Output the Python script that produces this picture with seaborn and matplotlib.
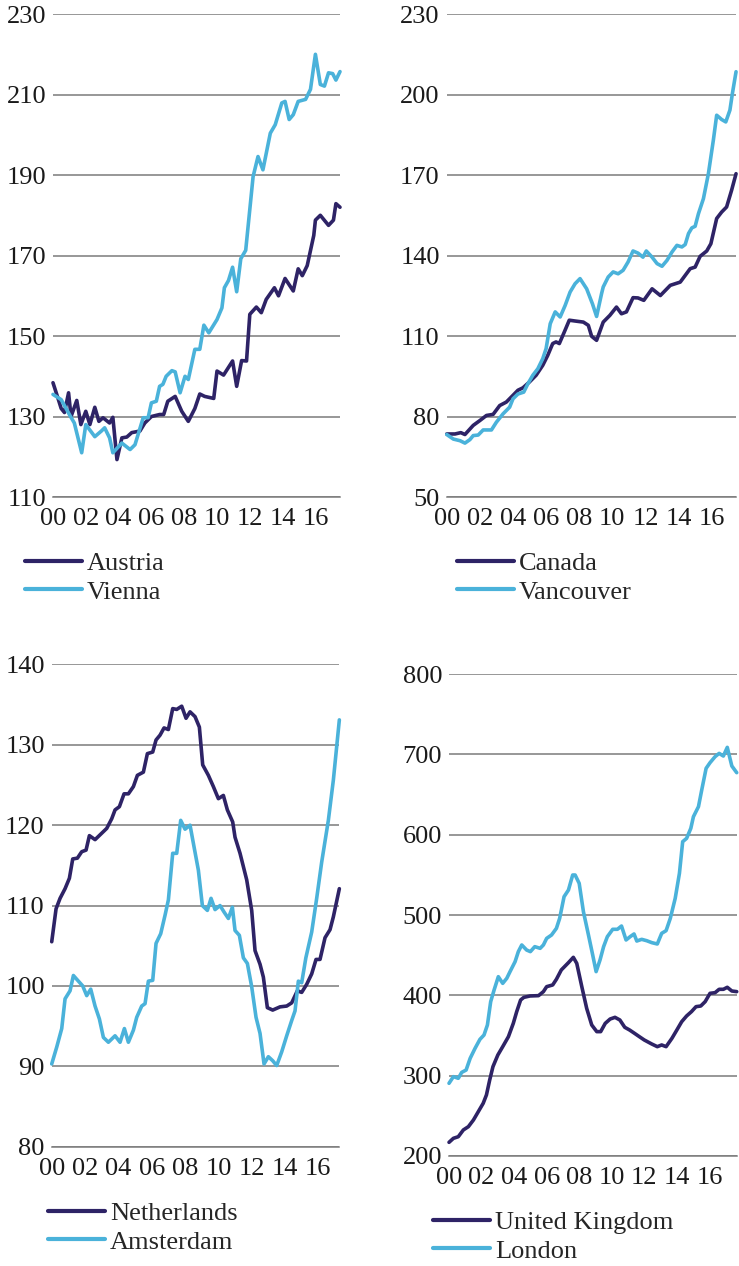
import matplotlib
matplotlib.use("Agg")
import matplotlib.pyplot as plt
import seaborn as sns
import pandas as pd

# ---------------- data (years since 2000, index values) ----------------
austria_x = [0,0.3,0.5,0.7,0.95,1.1,1.45,1.7,2.0,2.25,2.55,2.8,3.05,3.45,3.65,3.9,4.2,4.5,4.8,5.3,5.6,6.0,6.5,6.75,7.0,7.45,7.85,8.25,8.65,8.95,9.25,9.8,10.0,10.4,10.95,11.2,11.5,11.8,12.0,12.4,12.7,13.0,13.5,13.75,14.15,14.65,14.95,15.2,15.5,15.9,16.0,16.3,16.8,17.1,17.25,17.5]
austria_y = [138.4,134.6,132,131,135.9,130,134,128,131.3,128,132.3,128.8,129.7,128.4,129.8,119.3,124.7,124.9,126,126.4,128.4,130,130.5,130.5,133.8,135,131.3,128.8,132,135.6,135,134.5,141.3,140.3,143.8,137.5,143.9,143.8,155.4,157.2,155.8,159.1,162,160,164.3,161.2,166.7,165,167.5,175,178.8,180,177.5,178.8,182.9,182]

vienna_x = [0,0.5,1.0,1.3,1.75,2.0,2.55,2.95,3.15,3.45,3.65,4.2,4.7,5.0,5.5,5.8,6.0,6.3,6.5,6.7,6.9,7.25,7.45,7.75,8.05,8.25,8.65,8.95,9.2,9.5,10.0,10.3,10.45,10.7,10.95,11.2,11.45,11.75,12.2,12.5,12.8,13.25,13.55,13.95,14.15,14.4,14.65,14.95,15.4,15.7,16.0,16.3,16.55,16.8,17.05,17.25,17.5]
vienna_y = [135.5,134.2,130.5,128.4,121,128,125,126.4,127.2,124.7,121,123.4,121.8,123,129.7,129.7,133.4,133.8,137.5,138,140,141.4,141.1,135.9,140,139.2,146.7,146.7,152.7,150.8,154.1,157,162,163.8,167.1,161,169.2,171.3,189.6,194.6,191.3,200.4,202.5,207.9,208.3,203.8,205,208.3,208.8,211.3,220,212.5,212.1,215.4,215.2,213.6,215.7]

canada_x = [0,0.5,0.85,1.1,1.6,2.0,2.4,2.8,3.2,3.6,4.0,4.3,4.6,5.0,5.4,5.8,6.1,6.4,6.6,6.8,7.1,7.4,7.75,8.25,8.55,8.75,9.05,9.45,9.85,10.25,10.55,10.85,11.25,11.55,11.9,12.4,12.9,13.5,14.1,14.4,14.7,15.0,15.3,15.7,15.95,16.3,16.6,16.9,17.2,17.47]
canada_y = [73.5,73.5,74,73.3,76.7,78.5,80.4,80.8,84.1,85.4,87.9,89.8,90.7,92.9,95.4,99.1,102.8,107.2,107.8,107.2,111.5,115.9,115.6,115.2,114,109.9,108.4,115.2,117.7,120.8,118.3,119,124.3,124.2,123.3,127.6,125.1,128.9,130.1,132.6,135.1,135.7,139.7,141.7,144.4,153.8,156.2,158.1,164.3,170.5]

vancouver_x = [0,0.4,0.8,1.1,1.4,1.6,1.9,2.2,2.7,3.0,3.4,3.8,4.0,4.3,4.65,4.9,5.2,5.5,5.8,6.0,6.25,6.55,6.85,7.15,7.45,7.75,8.05,8.45,8.8,9.05,9.35,9.45,9.75,10.05,10.35,10.65,10.95,11.25,11.55,11.85,12.05,12.4,12.7,13.0,13.3,13.6,13.9,14.2,14.4,14.6,14.8,15.0,15.2,15.5,15.8,16.1,16.3,16.6,16.85,17.1,17.25,17.47]
vancouver_y = [73.3,71.6,71,70.1,71.4,72.9,73.1,75,75,77.9,81,83.5,86.6,88.4,89.1,92.2,95.4,97.8,101.6,105.3,114.6,119,117.1,121.4,126.4,129.5,131.4,127.6,122,117.3,125.8,128.3,132,133.9,133.2,134.5,137.6,141.7,140.9,139.4,141.7,139.4,137,136,138.2,141.3,143.8,143.2,144.1,148.2,150.3,150.9,155.6,161.2,170.5,183,192.3,190.7,189.8,194.2,200.4,208.5]

netherlands_x = [0,0.26,0.5,0.8,1.06,1.26,1.54,1.8,2.06,2.26,2.6,2.9,3.3,3.6,3.8,4.06,4.34,4.6,4.9,5.14,5.5,5.74,6.06,6.26,6.5,6.74,7.0,7.26,7.5,7.8,8.06,8.3,8.6,8.86,9.06,9.4,9.7,10.0,10.3,10.54,10.86,11.0,11.3,11.7,12.0,12.2,12.5,12.7,12.94,13.26,13.7,14.1,14.4,14.74,15.0,15.3,15.6,15.86,16.1,16.4,16.7,16.9,17.26]
netherlands_y = [105.5,109.6,110.9,112.1,113.4,115.8,115.9,116.7,116.9,118.7,118.2,118.8,119.6,120.8,121.9,122.3,123.9,123.9,124.8,126.2,126.6,128.9,129.1,130.6,131.2,132.1,131.9,134.5,134.4,134.8,133.3,134.1,133.5,132.2,127.5,126.2,124.8,123.3,123.7,121.9,120.4,118.5,116.5,113.2,109.4,104.4,102.7,101.1,97.3,97,97.4,97.5,97.9,99.4,99.2,100.2,101.5,103.3,103.3,106,107,108.6,112.1]

amsterdam_x = [0,0.3,0.6,0.8,1.1,1.3,1.6,1.86,2.1,2.34,2.6,2.86,3.1,3.4,3.8,4.1,4.36,4.6,4.9,5.1,5.4,5.6,5.8,6.06,6.26,6.54,6.8,7.0,7.26,7.5,7.74,8.0,8.3,8.54,8.8,9.04,9.34,9.56,9.8,10.1,10.34,10.6,10.84,11.0,11.26,11.5,11.74,12.0,12.26,12.5,12.74,13.0,13.26,13.5,13.8,14.1,14.4,14.6,14.8,15.0,15.25,15.6,15.9,16.2,16.6,16.9,17.26]
amsterdam_y = [90.3,92.4,94.7,98.4,99.4,101.3,100.6,100,98.8,99.6,97.5,95.9,93.6,93,93.8,93,94.7,93,94.5,96.1,97.5,97.8,100.6,100.7,105.3,106.5,108.8,110.7,116.5,116.5,120.6,119.5,120,117.3,114.4,110,109.4,110.9,109.5,110,109.2,108.4,109.8,106.9,106.3,103.5,102.8,99.9,96.1,94.1,90.3,91.2,90.7,90.1,91.8,93.8,95.7,96.9,100.6,100.4,103.5,106.7,110.9,115.4,120.6,125.6,133.1]

uk_x = [0,0.27,0.57,0.88,1.19,1.5,1.8,2.1,2.3,2.5,2.7,3.0,3.3,3.65,3.95,4.16,4.4,4.6,4.98,5.5,5.8,6.0,6.37,6.6,6.9,7.34,7.64,7.85,8.16,8.46,8.77,9.08,9.32,9.6,9.9,10.2,10.5,10.8,11.1,11.4,11.7,12.0,12.46,12.8,13.07,13.34,13.7,14.0,14.3,14.6,14.9,15.18,15.47,15.74,16.04,16.35,16.6,16.86,17.1,17.38,17.68]
uk_y = [217,222,224,232.4,236.5,244.8,255.2,265.6,276,294.6,311.2,325.7,336.1,348.5,365.1,379.7,394.2,397.5,399.2,399.6,404.6,410.8,412.9,420,431.6,440.7,447.3,439.8,410.8,383.8,363.1,354.8,354.8,365.1,370.5,372.6,369.3,360.2,356.8,352.7,348.5,344.4,339.4,336.1,338.2,336.1,346.5,356.8,367.2,374.3,379.7,385.9,386.7,392.1,402.5,403.3,407.5,407.5,410,405.4,404.6]

london_x = [0,0.27,0.57,0.78,1.05,1.3,1.6,1.9,2.15,2.36,2.56,2.77,3.03,3.3,3.55,3.75,4.06,4.26,4.47,4.77,5.0,5.27,5.6,5.8,6.0,6.3,6.6,6.8,7.07,7.34,7.6,7.75,8.0,8.26,8.57,8.83,9.04,9.28,9.5,9.73,10.06,10.35,10.6,10.88,11.13,11.37,11.54,11.84,12.15,12.46,12.8,13.07,13.34,13.6,13.9,14.16,14.36,14.6,14.86,15.02,15.33,15.53,15.8,16.04,16.35,16.6,16.86,17.1,17.38,17.68]
london_y = [290.5,298.8,296.7,304.1,307,321.6,334,345.2,350.6,363.1,392.1,406.6,423.2,414.9,421.2,429.5,441.9,454.4,462.7,456.4,454.4,460.6,458.5,462.7,470.9,475.1,483.4,495.9,522.8,531.1,549.8,549.8,539.4,504.1,475.1,450.2,429.5,444,460.6,473,482.2,482.2,486.3,468.9,473,476.4,467.6,469.7,468,465.6,463.9,477.2,480.5,495.9,520.7,551.9,591.3,595.4,607.9,622.4,634.9,655.6,682.6,689.6,697.1,701.2,697.9,708.7,685.5,677.2]

x_ticks = [0, 2, 4, 6, 8, 10, 12, 14, 16]
x_ticklabels = ["00", "02", "04", "06", "08", "10", "12", "14", "16"]

panels = [
    dict(names=("Austria", "Vienna"), data=((austria_x, austria_y), (vienna_x, vienna_y)),
         ylim=(110, 230), yticks=[110, 130, 150, 170, 190, 210, 230], xmax=17.5,
         rect=[0.0717, 0.6074, 0.3884, 0.3815], leg=(25, 577.5)),
    dict(names=("Canada", "Vancouver"), data=((canada_x, canada_y), (vancouver_x, vancouver_y)),
         ylim=(50, 230), yticks=[50, 80, 110, 140, 170, 200, 230], xmax=17.47,
         rect=[0.6045, 0.6074, 0.3915, 0.3815], leg=(457, 577.5)),
    dict(names=("Netherlands", "Amsterdam"), data=((netherlands_x, netherlands_y), (amsterdam_x, amsterdam_y)),
         ylim=(80, 140), yticks=[80, 90, 100, 110, 120, 130, 140], xmax=17.26,
         rect=[0.0700, 0.0942, 0.3892, 0.3810], leg=(48, 1227.5)),
    dict(names=("United Kingdom", "London"), data=((uk_x, uk_y), (london_x, london_y)),
         ylim=(200, 800), yticks=[200, 300, 400, 500, 600, 700, 800], xmax=17.68,
         rect=[0.6076, 0.0869, 0.3893, 0.3807], leg=(433, 1236.5)),
]

DARK = "#2E2366"
LIGHT = "#4AB2DA"
GRID = "#7a7a7a"

sns.set_style("white")
plt.rcParams["font.family"] = ["Liberation Serif", "DejaVu Serif"]

W, H = 739, 1266
fig = plt.figure(figsize=(W / 100, H / 100), dpi=100)
FS = 19

for p in panels:
    ax = fig.add_axes(p["rect"])
    frames = []
    for name, (xs, ys) in zip(p["names"], p["data"]):
        frames.append(pd.DataFrame({"year": xs, "value": ys, "series": name}))
    df = pd.concat(frames, ignore_index=True)
    sns.lineplot(data=df, x="year", y="value", hue="series",
                 palette=[DARK, LIGHT], hue_order=list(p["names"]),
                 estimator=None, sort=False, linewidth=2.6, ax=ax, legend=True)
    ax.set_xlim(0, p["xmax"])
    ax.set_ylim(*p["ylim"])
    ax.set_yticks(p["yticks"])
    ax.set_yticklabels([str(v) for v in p["yticks"]], fontsize=FS)
    ax.set_xticks(x_ticks)
    ax.set_xticklabels(x_ticklabels, fontsize=FS)
    ax.set_xlabel("")
    ax.set_ylabel("")
    ax.yaxis.grid(True, color=GRID, linewidth=1.1)
    ax.xaxis.grid(False)
    ax.set_axisbelow(True)
    for s in ("top", "right", "left"):
        ax.spines[s].set_visible(False)
    ax.spines["bottom"].set_color(GRID)
    ax.spines["bottom"].set_linewidth(1.1)
    ax.tick_params(axis="y", length=0, pad=5, colors="#1a1a1a")
    ax.tick_params(axis="x", direction="out", length=4, width=1.1, color=GRID,
                   pad=4, labelcolor="#1a1a1a")
    ax.patch.set_alpha(0)
    for ln in ax.get_lines():
        ln.set_clip_on(False)
        ln.set_solid_joinstyle("round")
        ln.set_solid_capstyle("round")
    handles, labels = ax.get_legend_handles_labels()
    for h in handles:
        h.set_linewidth(3.0)
    lx, ly = p["leg"]
    ax.legend(handles, labels, loc="center left",
              bbox_to_anchor=(lx / W, 1 - ly / H), bbox_transform=fig.transFigure,
              frameon=False, fontsize=FS, borderpad=0, borderaxespad=0,
              handlelength=2.15, handletextpad=0.2, labelspacing=0.2)

fig.savefig("out.png", dpi=100)
